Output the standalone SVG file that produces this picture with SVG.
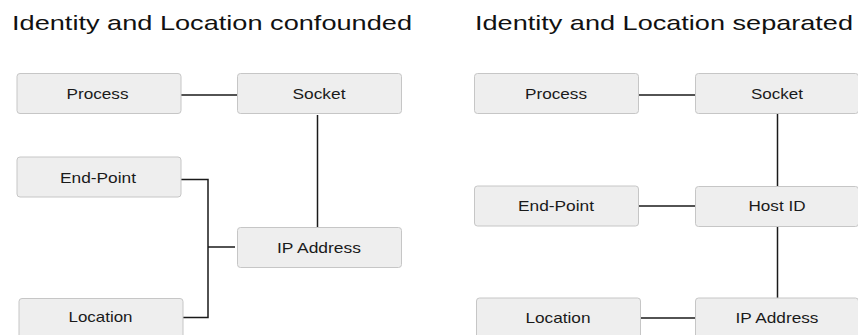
<svg xmlns="http://www.w3.org/2000/svg" width="858" height="335" viewBox="0 0 858 335">
<style>
.box{fill:#eeeeee;stroke:#c6c6c6;stroke-width:1}
.lbl{font-family:"Liberation Sans",Arial,sans-serif;font-size:15px;fill:#1a1a1a;text-anchor:middle}
.title{font-family:"Liberation Sans",Arial,sans-serif;font-size:21px;fill:#111111}
.conn{fill:none;stroke:#1a1a1a;stroke-width:1.5}
</style>
<rect width="858" height="335" fill="#ffffff"/>
<text class="title" x="12" y="29.5" textLength="400" lengthAdjust="spacingAndGlyphs">Identity and Location confounded</text>
<text class="title" x="475" y="29.5" textLength="378" lengthAdjust="spacingAndGlyphs">Identity and Location separated</text>
<g id="connectors">
<path class="conn" d="M181,95 H237"/>
<path class="conn" d="M317.5,115 V227"/>
<path class="conn" d="M181,179.5 H208 V317.5 H183"/>
<path class="conn" d="M208,247 H235"/>
<path class="conn" d="M639,95 H695"/>
<path class="conn" d="M777.5,114 V186"/>
<path class="conn" d="M639,206 H695"/>
<path class="conn" d="M777.5,227 V298"/>
<path class="conn" d="M641,318 H695"/>
</g>
<g id="l-process"><rect class="box" x="17" y="73.5" width="164" height="40" rx="3"/><text class="lbl" x="97.5" y="99" textLength="62" lengthAdjust="spacingAndGlyphs">Process</text></g>
<g id="l-socket"><rect class="box" x="237.5" y="73.5" width="164" height="40" rx="3"/><text class="lbl" x="319" y="99" textLength="53" lengthAdjust="spacingAndGlyphs">Socket</text></g>
<g id="l-endpoint"><rect class="box" x="17" y="157" width="164" height="40" rx="3"/><text class="lbl" x="98" y="182.5" textLength="76" lengthAdjust="spacingAndGlyphs">End-Point</text></g>
<g id="l-ipaddress"><rect class="box" x="237.5" y="227.5" width="164" height="40" rx="3"/><text class="lbl" x="319" y="253" textLength="84" lengthAdjust="spacingAndGlyphs">IP Address</text></g>
<g id="l-location"><rect class="box" x="19" y="298.5" width="164" height="40" rx="3"/><text class="lbl" x="100.5" y="322" textLength="64" lengthAdjust="spacingAndGlyphs">Location</text></g>
<g id="r-process"><rect class="box" x="474.5" y="73.5" width="164" height="40" rx="3"/><text class="lbl" x="556" y="99" textLength="62" lengthAdjust="spacingAndGlyphs">Process</text></g>
<g id="r-socket"><rect class="box" x="695.5" y="73.5" width="163" height="40" rx="3"/><text class="lbl" x="777" y="99" textLength="52" lengthAdjust="spacingAndGlyphs">Socket</text></g>
<g id="r-endpoint"><rect class="box" x="474.5" y="186" width="164" height="40" rx="3"/><text class="lbl" x="556" y="211" textLength="76" lengthAdjust="spacingAndGlyphs">End-Point</text></g>
<g id="r-hostid"><rect class="box" x="695.5" y="186.5" width="163" height="40" rx="3"/><text class="lbl" x="777" y="211" textLength="57" lengthAdjust="spacingAndGlyphs">Host ID</text></g>
<g id="r-location"><rect class="box" x="476.5" y="298" width="164" height="40" rx="3"/><text class="lbl" x="558" y="322.5" textLength="65" lengthAdjust="spacingAndGlyphs">Location</text></g>
<g id="r-ipaddress"><rect class="box" x="695.5" y="298" width="163" height="40" rx="3"/><text class="lbl" x="777" y="322.5" textLength="83" lengthAdjust="spacingAndGlyphs">IP Address</text></g>
</svg>
